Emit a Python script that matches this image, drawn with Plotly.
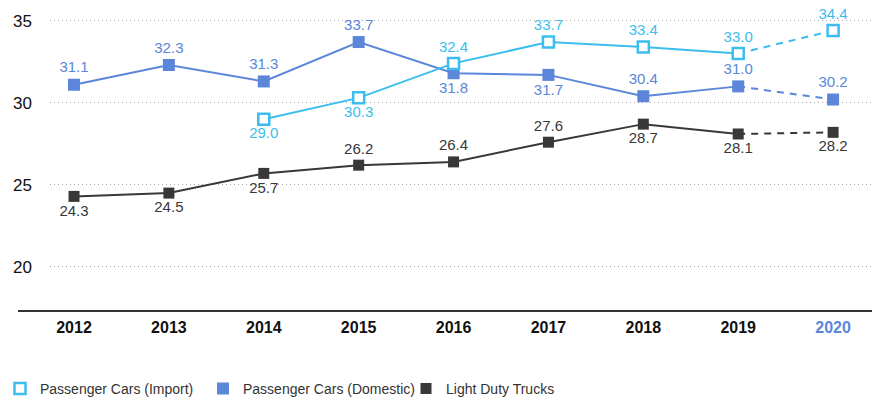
import plotly.graph_objects as go

years = [2012, 2013, 2014, 2015, 2016, 2017, 2018, 2019, 2020]
year_labels = ["2012", "2013", "2014", "2015", "2016", "2017", "2018", "2019", "2020"]
import_years = [2014, 2015, 2016, 2017, 2018, 2019, 2020]
import_vals = [29.0, 30.3, 32.4, 33.7, 33.4, 33.0, 34.4]
domestic_vals = [31.1, 32.3, 31.3, 33.7, 31.8, 31.7, 30.4, 31.0, 30.2]
truck_vals = [24.3, 24.5, 25.7, 26.2, 26.4, 27.6, 28.7, 28.1, 28.2]
y_ticks = [20, 25, 30, 35]

C_IMP = "#3dbdee"
C_DOM = "#5b86da"
C_TRK = "#383838"
FONT = "Liberation Sans, Arial, sans-serif"

imp_pos = ["bottom center", "bottom center", "top center", "top center", "top center", "top center", "top center"]
dom_pos = ["top center", "top center", "top center", "top center", "bottom center", "bottom center", "top center", "top center", "top center"]
trk_pos = ["bottom center", "bottom center", "bottom center", "top center", "top center", "top center", "bottom center", "bottom center", "bottom center"]

fig = go.Figure()

def add_series(xs, ys, color, name, marker, pos, rank):
    fig.add_trace(go.Scatter(x=xs[:-1], y=ys[:-1], mode="lines", line=dict(color=color, width=2),
                             showlegend=False, hoverinfo="skip"))
    fig.add_trace(go.Scatter(x=xs[-2:], y=ys[-2:], mode="lines", line=dict(color=color, width=2, dash="7px,6px"),
                             showlegend=False, hoverinfo="skip"))
    fig.add_trace(go.Scatter(x=xs, y=ys, mode="markers+text", name=name, marker=marker,
                             text=[f"{v:.1f}" for v in ys], textposition=pos,
                             textfont=dict(color=color, size=15, family=FONT),
                             cliponaxis=False, legendrank=rank))

add_series(years, truck_vals, C_TRK, "Light Duty Trucks",
           dict(symbol="square", size=11, color=C_TRK), trk_pos, 3)
add_series(years, domestic_vals, C_DOM, "Passenger Cars (Domestic)",
           dict(symbol="square", size=12, color=C_DOM), dom_pos, 2)
add_series(import_years, import_vals, C_IMP, "Passenger Cars (Import)",
           dict(symbol="square", size=11, color="white", line=dict(color=C_IMP, width=2.5)), imp_pos, 1)

ticktext = year_labels[:-1] + [f"<span style='color:{C_DOM}'>{year_labels[-1]}</span>"]

fig.update_layout(
    width=872, height=400,
    margin=dict(l=50, r=0, t=0, b=89, autoexpand=False),
    paper_bgcolor="white", plot_bgcolor="white",
    font=dict(family=FONT),
    xaxis=dict(range=[2011.747, 2020.41], tickvals=years, ticktext=ticktext,
               showgrid=False, zeroline=False, showline=False,
               tickfont=dict(size=16, color="#111", weight="bold"), ticklabelstandoff=5),
    yaxis=dict(range=[17.32, 36.26], tickvals=y_ticks, showgrid=True, gridcolor="#a8a8a8",
               griddash="1px,3px", gridwidth=1, zeroline=False, showline=False,
               tickfont=dict(size=17, color="#111"), ticklabelstandoff=17),
    legend=dict(orientation="h", xref="container", yref="container", y=0.028, yanchor="middle",
                x=-0.003, xanchor="left", font=dict(size=14, color="#333"),
                itemclick=False, entrywidth=158, entrywidthmode="pixels"),
    showlegend=True,
    shapes=[dict(type="line", xref="paper", yref="paper", x0=-0.039, x1=1, y0=0, y1=0,
                 line=dict(color="#333", width=2))],
)

fig.write_html("out.html", config={"displayModeBar": False},
               post_script="document.body.style.margin='0';document.body.style.overflow='hidden';")
